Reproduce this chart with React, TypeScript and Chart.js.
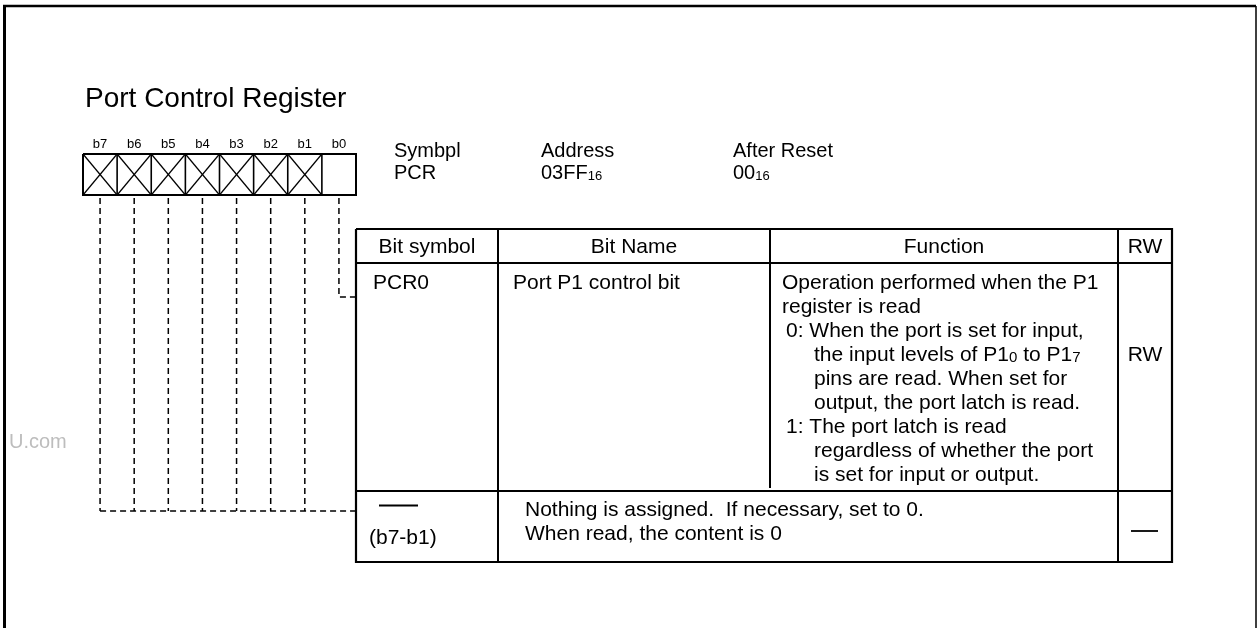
import { useEffect, useRef } from 'react';
import { Chart, registerables } from 'chart.js';

Chart.register(...registerables);

// ---------- content ----------
const registerTitle = 'Port Control Register';
const bitLabels = ['b7', 'b6', 'b5', 'b4', 'b3', 'b2', 'b1', 'b0'];
const bitReserved = [true, true, true, true, true, true, true, false];
const infoLabels = ['Symbpl', 'Address', 'After Reset'];
type Seg = { t: string; sub?: boolean };
const infoValues: Seg[][] = [
  [{ t: 'PCR' }],
  [{ t: '03FF' }, { t: '16', sub: true }],
  [{ t: '00' }, { t: '16', sub: true }],
];
const headerLabels = ['Bit symbol', 'Bit Name', 'Function', 'RW'];
const row1Symbol = 'PCR0';
const row1Name = 'Port P1 control bit';
const row1Function: Seg[][] = [
  [{ t: 'Operation performed when the P1' }],
  [{ t: 'register is read' }],
  [{ t: '0: When the port is set for input,' }],
  [{ t: 'the input levels of P1' }, { t: '0', sub: true }, { t: ' to P1' }, { t: '7', sub: true }],
  [{ t: 'pins are read. When set for' }],
  [{ t: 'output, the port latch is read.' }],
  [{ t: '1: The port latch is read' }],
  [{ t: 'regardless of whether the port' }],
  [{ t: 'is set for input or output.' }],
];
const row1FunctionIndent = [0, 0, 1, 2, 2, 2, 1, 2, 2];
const row1RW = 'RW';
const row2Symbol = '(b7-b1)';
const row2Function = ['Nothing is assigned.  If necessary, set to 0.', 'When read, the content is 0'];
const watermark = 'U.com';

// ---------- layout (in page units of the chart's linear scales) ----------
const W = 1257;
const H = 628;
const FONT = '"Liberation Sans", Arial, Helvetica, sans-serif';
const REG = { x0: 83, x1: 356, y0: 154, y1: 195, labelY: 148 };
const LEAD = { top: 198, b0Bottom: 297, restBottom: 511 };
const TBL = { L: 356, C1: 498, C2: 770, C3: 1118, R: 1172, T: 229, Hd: 263, R1: 491, B: 562 };
const INFO_X = [394, 541, 733];
const INDENT_X = [782, 786, 814];

type Line = { pts: [number, number][]; w: number; dash?: number[] };

function buildLines(): Line[] {
  const out: Line[] = [];
  // outer frame
  out.push({ pts: [[4.5, H], [4.5, 6]], w: 3 });
  out.push({ pts: [[3, 6], [1256, 6]], w: 2.5 });
  out.push({ pts: [[1256, 6], [1256, H]], w: 1.5 });
  // register box
  const n = bitLabels.length;
  const cw = (REG.x1 - REG.x0) / n;
  out.push({
    pts: [[REG.x0, REG.y0], [REG.x1, REG.y0], [REG.x1, REG.y1], [REG.x0, REG.y1], [REG.x0, REG.y0]],
    w: 2,
  });
  for (let i = 1; i < n; i++) {
    const x = REG.x0 + i * cw;
    out.push({ pts: [[x, REG.y0], [x, REG.y1]], w: 1.6 });
  }
  bitReserved.forEach((r, i) => {
    if (!r) return;
    const a = REG.x0 + i * cw;
    const b = a + cw;
    out.push({ pts: [[a, REG.y0], [b, REG.y1]], w: 1.2 });
    out.push({ pts: [[b, REG.y0], [a, REG.y1]], w: 1.2 });
  });
  // leader lines
  const dash = [6, 4];
  bitLabels.forEach((_, i) => {
    const cx = REG.x0 + (i + 0.5) * cw;
    if (bitReserved[i]) {
      out.push({ pts: [[cx, LEAD.top], [cx, LEAD.restBottom]], w: 1.5, dash });
    } else {
      out.push({ pts: [[cx, LEAD.top], [cx, LEAD.b0Bottom], [TBL.L, LEAD.b0Bottom]], w: 1.5, dash });
    }
  });
  const firstReserved = bitReserved.indexOf(true);
  const fx = REG.x0 + (firstReserved + 0.5) * cw;
  out.push({ pts: [[fx, LEAD.restBottom], [TBL.L, LEAD.restBottom]], w: 1.5, dash });
  // table
  out.push({
    pts: [[TBL.L, TBL.T], [TBL.R, TBL.T], [TBL.R, TBL.B], [TBL.L, TBL.B], [TBL.L, TBL.T]],
    w: 2.2,
  });
  out.push({ pts: [[TBL.L, TBL.Hd], [TBL.R, TBL.Hd]], w: 2 });
  out.push({ pts: [[TBL.L, TBL.R1], [TBL.R, TBL.R1]], w: 2 });
  out.push({ pts: [[TBL.C1, TBL.T], [TBL.C1, TBL.B]], w: 2 });
  out.push({ pts: [[TBL.C2, TBL.T], [TBL.C2, TBL.R1 - 3]], w: 2 });
  out.push({ pts: [[TBL.C3, TBL.T], [TBL.C3, TBL.B]], w: 2 });
  // row 2 "no symbol" dashes
  out.push({ pts: [[379, 505.5], [418, 505.5]], w: 2 });
  out.push({ pts: [[1131, 531], [1158, 531]], w: 1.8 });
  return out;
}

function drawRich(
  ctx: CanvasRenderingContext2D,
  segs: Seg[],
  x: number,
  y: number,
  size: number,
  subSize: number
) {
  let cx = x;
  for (const s of segs) {
    ctx.font = `${s.sub ? subSize : size}px ${FONT}`;
    ctx.fillText(s.t, cx, y + (s.sub ? 1 : 0));
    cx += ctx.measureText(s.t).width;
  }
}

const textPlugin = {
  id: 'registerText',
  afterDatasetsDraw(chart: any) {
    const ctx: CanvasRenderingContext2D = chart.ctx;
    const sx = chart.scales.x;
    const sy = chart.scales.y;
    const px = (v: number) => sx.getPixelForValue(v);
    const py = (v: number) => sy.getPixelForValue(v);
    ctx.save();
    ctx.fillStyle = '#000';
    ctx.textBaseline = 'alphabetic';

    // watermark
    ctx.fillStyle = '#bdbdbd';
    ctx.font = `20px ${FONT}`;
    ctx.textAlign = 'left';
    ctx.fillText(watermark, px(9), py(448));
    ctx.fillStyle = '#000';

    // title
    ctx.font = `28px ${FONT}`;
    ctx.fillText(registerTitle, px(85), py(107));

    // bit labels
    const cw = (REG.x1 - REG.x0) / bitLabels.length;
    ctx.font = `13px ${FONT}`;
    ctx.textAlign = 'center';
    bitLabels.forEach((b, i) => ctx.fillText(b, px(REG.x0 + (i + 0.5) * cw), py(REG.labelY)));

    // info block
    ctx.textAlign = 'left';
    infoLabels.forEach((l, i) => {
      ctx.font = `20px ${FONT}`;
      ctx.fillText(l, px(INFO_X[i]), py(157));
      drawRich(ctx, infoValues[i], px(INFO_X[i]), py(179), 20, 13);
    });

    // header
    const cols = [TBL.L, TBL.C1, TBL.C2, TBL.C3, TBL.R];
    ctx.font = `21px ${FONT}`;
    ctx.textAlign = 'center';
    headerLabels.forEach((h, i) => ctx.fillText(h, px((cols[i] + cols[i + 1]) / 2), py(253)));

    // row 1
    ctx.textAlign = 'left';
    ctx.fillText(row1Symbol, px(373), py(289));
    ctx.fillText(row1Name, px(513), py(289));
    row1Function.forEach((segs, i) => {
      drawRich(ctx, segs, px(INDENT_X[row1FunctionIndent[i]]), py(289 + i * 24), 21, 15);
    });
    ctx.font = `21px ${FONT}`;
    ctx.textAlign = 'center';
    ctx.fillText(row1RW, px((TBL.C3 + TBL.R) / 2), py(361));

    // row 2
    ctx.textAlign = 'left';
    ctx.fillText(row2Symbol, px(369), py(544));
    row2Function.forEach((t, i) => ctx.fillText(t, px(525), py(516 + i * 24)));

    ctx.restore();
  },
};

export default function App() {
  const ref = useRef<HTMLCanvasElement | null>(null);
  useEffect(() => {
    if (!ref.current) return;
    const lines = buildLines();
    const chart = new Chart(ref.current, {
      type: 'scatter',
      data: {
        datasets: lines.map((l) => ({
          data: l.pts.map(([x, y]) => ({ x, y })),
          showLine: true,
          borderColor: '#000',
          borderWidth: l.w,
          borderDash: l.dash || [],
          pointRadius: 0,
          pointHoverRadius: 0,
          fill: false,
          tension: 0,
          clip: false as any,
          borderJoinStyle: 'miter' as const,
        })),
      },
      options: {
        responsive: false,
        animation: false,
        events: [],
        layout: { padding: 0 },
        plugins: { legend: { display: false }, tooltip: { enabled: false } },
        scales: {
          x: { type: 'linear', min: 0, max: W, display: false },
          y: { type: 'linear', min: 0, max: H, reverse: true, display: false },
        },
      },
      plugins: [textPlugin],
    });
    return () => chart.destroy();
  }, []);
  return (
    <div style={{ position: 'fixed', left: 0, top: 0, width: W, height: H, background: '#fff' }}>
      <canvas ref={ref} width={W} height={H} style={{ display: 'block', width: W, height: H }} />
    </div>
  );
}
